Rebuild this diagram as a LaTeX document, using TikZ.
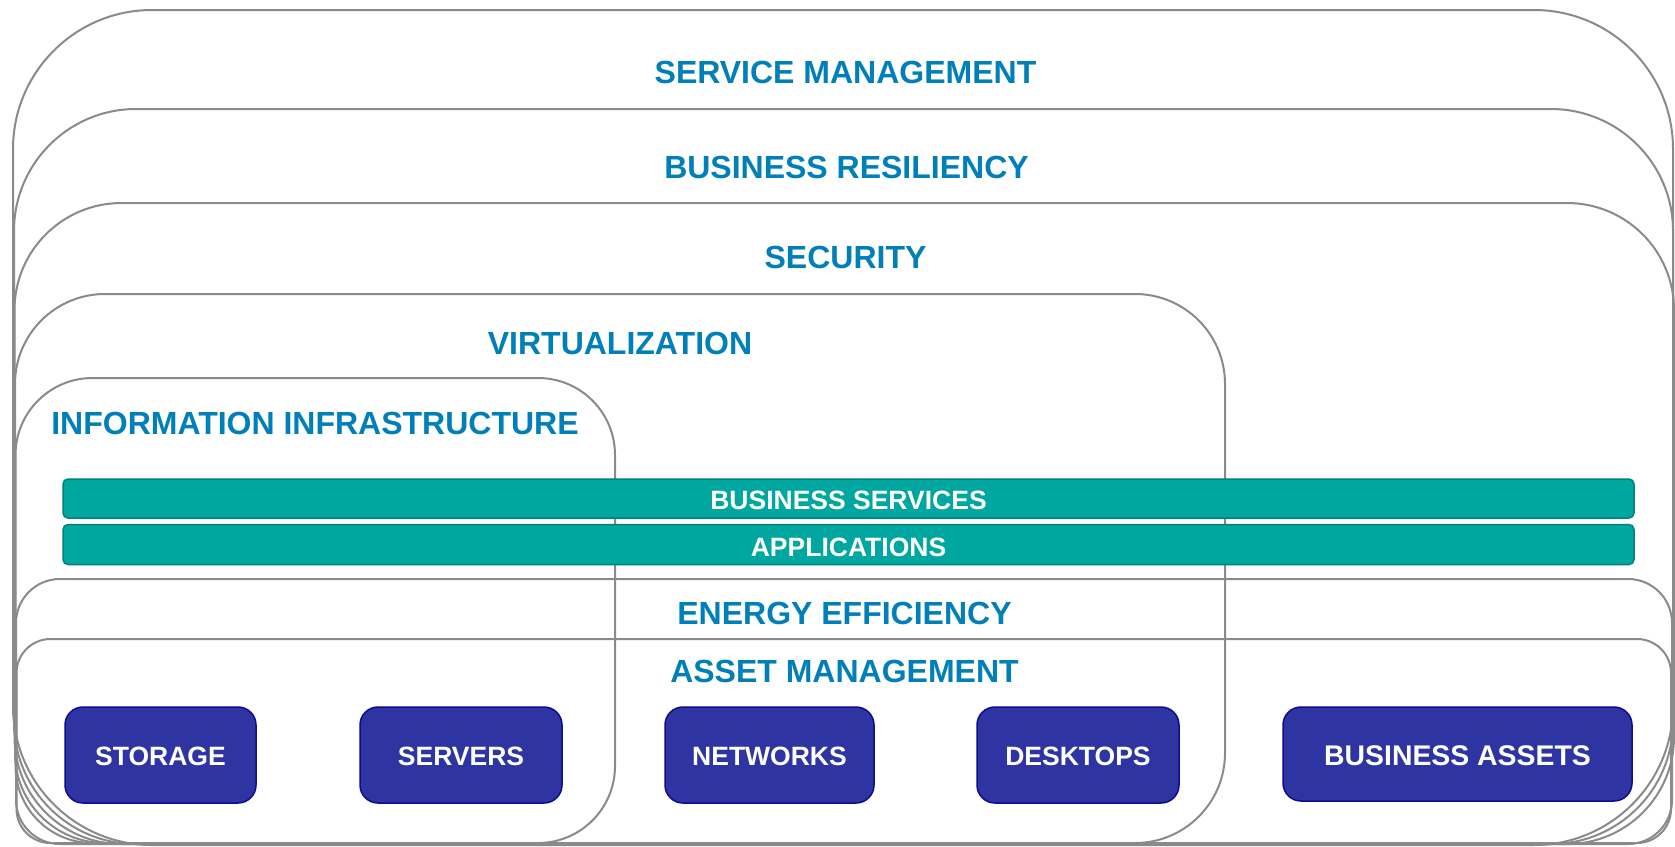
\documentclass[tikz,border=0pt]{standalone}
\usepackage{fontspec}
\setmainfont{Liberation Sans}
\definecolor{lineGray}{RGB}{138,138,138}
\definecolor{titleBlue}{RGB}{0,127,185}
\definecolor{tealFill}{RGB}{0,166,160}
\definecolor{tealEdge}{RGB}{0,130,124}
\definecolor{boxFill}{RGB}{46,53,162}
\definecolor{boxEdge}{RGB}{12,12,140}
\begin{document}
\begin{tikzpicture}[x=1pt,y=-1pt,
  layer/.style={draw=lineGray, line width=2pt, inner sep=0pt, rectangle},
  title/.style={text=titleBlue, font=\fontsize{32}{36}\selectfont\bfseries, anchor=base, inner sep=0pt},
  bar/.style={fill=tealFill, draw=tealEdge, line width=1.5pt, rounded corners=5pt, text=white,
    font=\fontsize{26.5}{30}\selectfont\bfseries, inner sep=0pt, minimum width=1571pt, text depth=0pt},
  asset/.style={fill=boxFill, draw=boxEdge, line width=1.5pt, rounded corners=18pt, text=white,
    font=\fontsize{26.5}{30}\selectfont\bfseries, inner sep=0pt, minimum height=96pt,
    text height=21pt, text depth=0pt}]
\useasboundingbox (0,0) rectangle (1675,846);
\fill[white] (0,0) rectangle (1675,846);
% nested layers
\node[layer, rounded corners=139pt, minimum width=1660pt, minimum height=835pt] (svc) at (843,427.5) {};
\node[layer, rounded corners=122pt, minimum width=1659pt, minimum height=735pt] (bres) at (843.5,476.5) {};
\node[layer, rounded corners=107pt, minimum width=1659.5pt, minimum height=641pt] (sec) at (844.25,523.5) {};
\node[layer, rounded corners=90pt, minimum width=1210pt, minimum height=549pt] (virt) at (620,568.5) {};
\node[layer, rounded corners=77pt, minimum width=599.5pt, minimum height=465pt] (info) at (315.25,610.5) {};
% titles
\node[title] (svcT) at (845.5,83.3) {SERVICE MANAGEMENT};
\node[title] (bresT) at (846.5,178.3) {BUSINESS RESILIENCY};
\node[title] (secT) at (845.5,268) {SECURITY};
\node[title] (virtT) at (620,354.5) {VIRTUALIZATION};
\node[title] (infoT) at (315,434.5) {INFORMATION INFRASTRUCTURE};
% bars
\node[bar, minimum height=39pt, text height=21pt] (bsv) at (848.5,498.5) {BUSINESS SERVICES};
\node[bar, minimum height=40pt, text height=23.5pt] (apps) at (848.5,544.5) {APPLICATIONS};
% lower layers
\node[layer, rounded corners=44pt, minimum width=1656pt, minimum height=265pt] (ee) at (844,711.5) {};
\node[layer, rounded corners=34pt, minimum width=1654.5pt, minimum height=204pt] (am) at (843.75,741) {};
\node[title] (eeT) at (844.5,624.5) {ENERGY EFFICIENCY};
\node[title] (amT) at (844.5,682.5) {ASSET MANAGEMENT};
% assets
\node[asset, minimum width=191pt] (stor) at (160.5,755) {STORAGE};
\node[asset, minimum width=202pt] (serv) at (461,755) {SERVERS};
\node[asset, minimum width=209pt] (net) at (769.5,755) {NETWORKS};
\node[asset, minimum width=202pt] (desk) at (1078,755) {DESKTOPS};
\node[asset, minimum width=349pt, minimum height=94pt, text height=22.5pt, font=\fontsize{28.4}{32}\selectfont\bfseries] (bass) at (1457.5,754) {BUSINESS ASSETS};
\end{tikzpicture}
\end{document}
